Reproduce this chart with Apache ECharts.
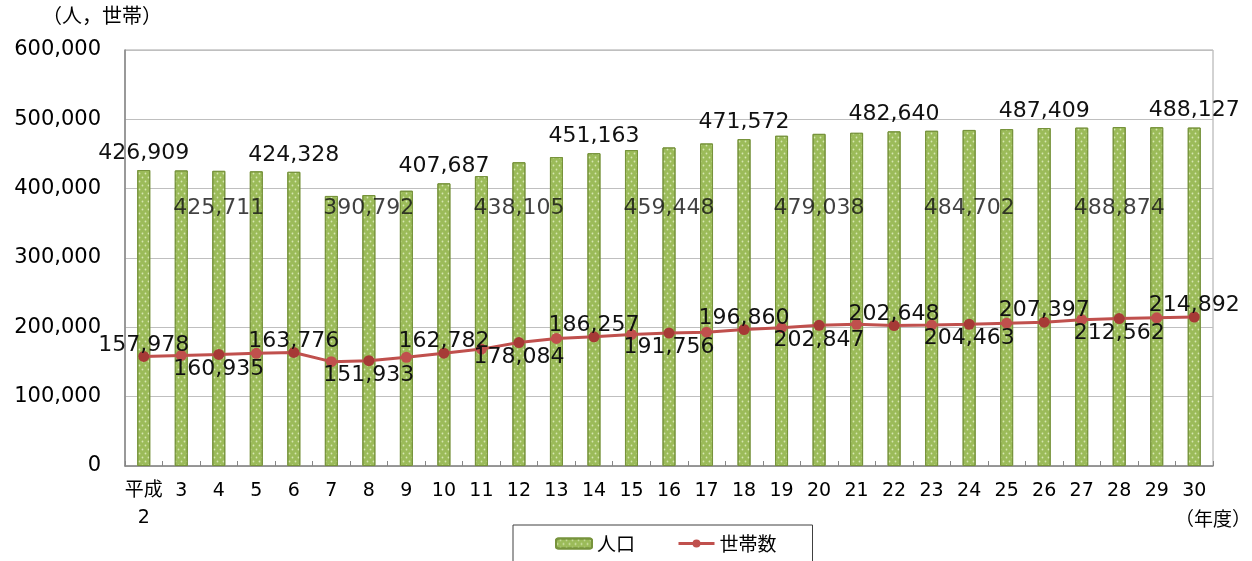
<!DOCTYPE html>
<html>
<head>
<meta charset="utf-8">
<script src="https://cdn.jsdelivr.net/npm/echarts@6/dist/echarts.min.js"></script>
<style>
html,body{margin:0;padding:0;background:#fff;}
#chart{width:1252px;height:561px;}
</style>
</head>
<body>
<div id="chart"></div>
<script>
const years = ['平成\n2','3','4','5','6','7','8','9','10','11','12','13','14','15','16','17','18','19','20','21','22','23','24','25','26','27','28','29','30'];
const population = [426909, 426300, 425711, 425000, 424328, 389500, 390792, 397000, 407687, 418000, 438105, 445600, 451163, 455700, 459448, 465200, 471572, 476300, 479038, 480600, 482640, 483500, 484702, 485900, 487409, 488000, 488874, 488600, 488127];
const households = [157978, 159500, 160935, 162500, 163776, 150500, 151933, 156700, 162782, 168600, 178084, 184000, 186257, 189800, 191756, 193000, 196860, 199500, 202847, 204300, 202648, 203300, 204463, 206000, 207397, 211000, 212562, 213800, 214892];
const yTicks = [0, 100000, 200000, 300000, 400000, 500000, 600000];

const NUM_FONT = 'DejaVu Sans, Noto Sans CJK JP, sans-serif';
const JP_FONT = 'Noto Sans CJK JP, sans-serif';
const fmt = v => v.toLocaleString('en-US');
const INNER_LABEL_LEVEL = 372000;

const chart = echarts.init(document.getElementById('chart'));
chart.setOption({
  animation: false,
  textStyle: {fontFamily: NUM_FONT, color: '#000'},
  grid: {left: 125, right: 39, top: 50, bottom: 95, show: true, borderColor: '#A6A6A6', borderWidth: 1},
  legend: {
    data: ['人口', '世帯数'],
    left: 513, top: 525,
    padding: [9, 36, 14, 42],
    itemGap: 42,
    itemWidth: 36, itemHeight: 10,
    borderColor: '#404040', borderWidth: 1,
    lineStyle: {width: 3},
    textStyle: {fontFamily: JP_FONT, fontSize: 19, color: '#000'}
  },
  graphic: [
    {type: 'text', left: 42, top: 5, style: {text: '（人，世帯）', font: '20px ' + JP_FONT, fill: '#000'}},
    {type: 'text', left: 1175, top: 509, style: {text: '（年度）', font: '19px ' + JP_FONT, fill: '#000'}}
  ],
  xAxis: {
    type: 'category',
    data: years,
    axisLine: {lineStyle: {color: '#868686', width: 1.5}},
    axisTick: {show: true, inside: true, length: 5, lineStyle: {color: '#868686'}},
    axisLabel: {interval: 0, fontSize: 19, color: '#000', margin: 12, lineHeight: 27,
      fontFamily: NUM_FONT}
  },
  yAxis: {
    type: 'value',
    min: yTicks[0], max: yTicks[yTicks.length - 1], interval: 100000,
    axisLine: {show: true, lineStyle: {color: '#868686', width: 1.5}},
    axisTick: {show: false},
    splitLine: {lineStyle: {color: '#BFBFBF'}},
    axisLabel: {fontSize: 21, color: '#000', margin: 24, formatter: v => fmt(v)}
  },
  series: [
    {
      name: '人口',
      type: 'bar',
      barWidth: 13,
      data: population.map((v, i) => ({value: v, label: {show: i % 4 === 0}})),
      itemStyle: {
        color: '#9BBB59',
        borderColor: '#77933C',
        borderWidth: 1,
        decal: {symbol: 'circle', symbolSize: 0.6, dashArrayX: [[3, 3], [0, 3, 3, 0]], dashArrayY: [3, 1], color: 'rgba(235,245,210,0.75)', rotation: 0}
      },
      label: {position: 'top', distance: 6, fontSize: 22, color: '#111', formatter: p => fmt(p.value)},
      z: 2
    },
    {
      name: '人口ラベル',
      type: 'scatter',
      symbolSize: 0,
      silent: true,
      data: population.map((v, i) => i % 4 === 2 ? [i, INNER_LABEL_LEVEL] : [i, null]),
      label: {show: true, position: 'inside', fontSize: 22, color: '#111',
        formatter: p => fmt(population[p.dataIndex])},
      z: 5
    },
    {
      name: '世帯数',
      type: 'line',
      data: households.map((v, i) => ({
        value: v,
        itemStyle: {color: i % 2 === 0 ? '#A63A36' : '#C0504D'},
        label: {show: i % 2 === 0, position: i % 4 === 0 ? 'top' : 'bottom', distance: i % 4 === 0 ? -5 : -2}
      })),
      symbol: 'circle',
      symbolSize: 11,
      lineStyle: {color: '#C0504D', width: 3},
      itemStyle: {color: '#C0504D'},
      label: {fontSize: 22, color: '#111', formatter: p => fmt(p.value)},
      z: 4
    }
  ]
});
</script>
</body>
</html>
